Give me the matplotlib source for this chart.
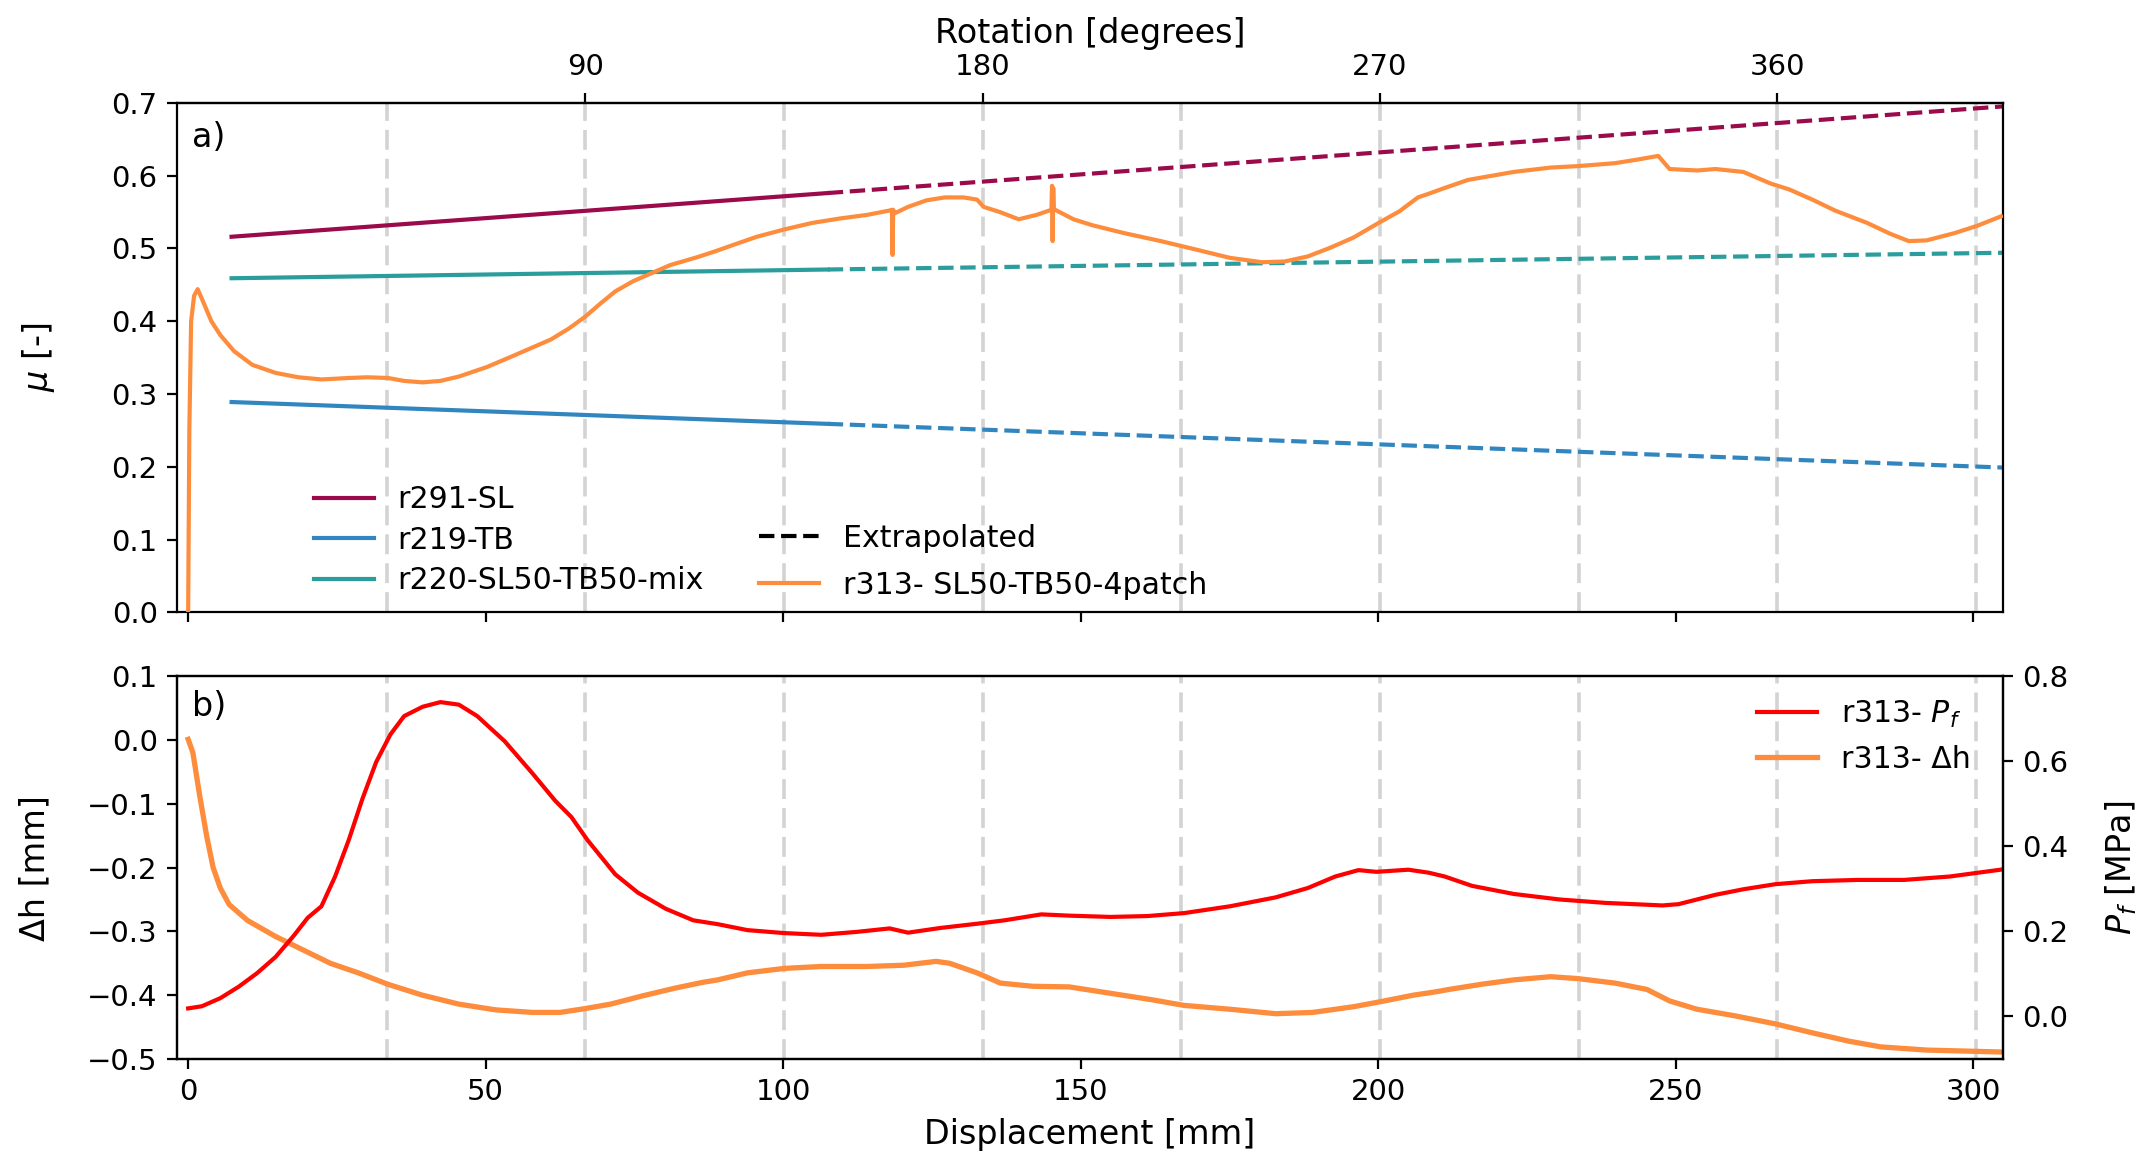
import numpy as np
import matplotlib
matplotlib.use("Agg")
import matplotlib.pyplot as plt
from matplotlib.lines import Line2D

# ---------------- data ----------------
# reference fits (solid = measured range, dashed = extrapolated)
sl_x_fit = [7.3, 107.5]
sl_mu_fit = [0.516, 0.576]
sl_x_ext = [107.5, 305.0]
sl_mu_ext = [0.576, 0.695]

tb_x_fit = [7.3, 107.5]
tb_mu_fit = [0.289, 0.259]
tb_x_ext = [107.5, 305.0]
tb_mu_ext = [0.259, 0.199]

mix_x_fit = [7.3, 107.5]
mix_mu_fit = [0.459, 0.471]
mix_x_ext = [107.5, 305.0]
mix_mu_ext = [0.471, 0.494]

# r313 friction coefficient
r313_x = [0.0, 0.2, 0.5, 1.0, 1.6, 2.3, 3.9, 5.4, 7.7, 10.8, 14.7, 18.5, 22.4, 27.0,
          30.1, 33.6, 36.3, 39.4, 42.4, 45.5, 50.2, 54.8, 61.0, 64.0, 66.7, 69.4,
          71.8, 74.8, 77.9, 81.0, 85.6, 88.6, 91.7, 95.6, 100.2, 104.9, 109.5, 114.1,
          117.9, 118.3, 118.4, 118.5, 118.7, 121.0, 124.1, 127.2, 130.3, 132.6, 133.7,
          136.4, 139.6, 142.6, 145.1, 145.2, 145.3, 145.4, 145.5, 148.8, 151.9, 157.3,
          163.5, 169.6, 175.1, 180.5, 184.3, 188.2, 192.0, 195.9, 200.1, 203.6, 206.7,
          208.5, 211.2, 215.1, 222.8, 229.0, 233.6, 239.8, 243.6, 247.1, 249.0, 253.6,
          256.7, 261.4, 266.0, 269.1, 273.0, 276.8, 282.2, 286.1, 289.2, 292.2, 296.9,
          300.7, 304.7]
r313_mu = [0.000, 0.250, 0.400, 0.435, 0.444, 0.431, 0.400, 0.381, 0.359, 0.340, 0.329,
           0.323, 0.320, 0.322, 0.323, 0.322, 0.318, 0.316, 0.318, 0.324, 0.337, 0.353,
           0.375, 0.390, 0.406, 0.425, 0.441, 0.455, 0.466, 0.477, 0.488, 0.496, 0.505,
           0.516, 0.526, 0.535, 0.541, 0.546, 0.552, 0.553, 0.491, 0.553, 0.548, 0.557,
           0.566, 0.570, 0.570, 0.567, 0.557, 0.550, 0.540, 0.546, 0.553, 0.586, 0.510,
           0.583, 0.554, 0.540, 0.532, 0.521, 0.510, 0.498, 0.487, 0.481, 0.482, 0.489,
           0.501, 0.515, 0.535, 0.551, 0.570, 0.575, 0.583, 0.594, 0.605, 0.611, 0.613,
           0.617, 0.622, 0.627, 0.609, 0.607, 0.609, 0.605, 0.589, 0.581, 0.567, 0.552,
           0.535, 0.520, 0.510, 0.511, 0.521, 0.531, 0.544]

# r313 fault-normal pressure Pf [MPa]
pf_x = [0.0, 2.3, 5.4, 8.5, 11.6, 14.7, 17.7, 20.1, 22.4, 24.7, 27.0, 29.3, 31.6, 34.0,
        36.3, 39.4, 42.4, 45.5, 48.6, 53.2, 57.9, 61.7, 64.4, 67.1, 71.8, 75.6, 80.3,
        84.9, 89.0, 94.0, 100.2, 106.4, 112.5, 117.9, 121.0, 126.4, 132.6, 137.2,
        143.4, 148.1, 155.0, 161.2, 167.4, 175.1, 182.8, 188.2, 192.8, 196.7, 199.7,
        205.1, 208.5, 211.2, 215.8, 222.8, 230.5, 238.2, 247.8, 250.5, 256.7, 261.4,
        266.8, 273.0, 280.7, 288.4, 296.1, 304.6]
pf_val = [0.019, 0.024, 0.043, 0.070, 0.102, 0.140, 0.189, 0.232, 0.259, 0.329, 0.415,
          0.512, 0.598, 0.663, 0.706, 0.728, 0.739, 0.733, 0.706, 0.647, 0.571, 0.507,
          0.469, 0.415, 0.334, 0.291, 0.253, 0.226, 0.217, 0.203, 0.196, 0.192, 0.199,
          0.207, 0.197, 0.208, 0.218, 0.226, 0.240, 0.237, 0.234, 0.236, 0.243, 0.259,
          0.280, 0.302, 0.329, 0.344, 0.340, 0.345, 0.338, 0.329, 0.307, 0.288, 0.275,
          0.267, 0.261, 0.264, 0.286, 0.299, 0.311, 0.318, 0.321, 0.321, 0.329, 0.345]

# r313 height change dh [mm]
dh_x = [0.0, 0.8, 1.9, 3.1, 4.2, 5.4, 6.9, 10.0, 14.7, 19.3, 23.9, 28.6, 33.6, 39.4,
        45.5, 51.7, 57.9, 62.5, 66.7, 71.0, 76.4, 81.8, 86.4, 89.0, 94.0, 100.2, 106.4,
        114.1, 120.3, 125.7, 128.0, 132.6, 136.5, 141.9, 148.1, 155.7, 161.9, 167.4,
        175.1, 182.8, 189.0, 195.9, 200.5, 205.9, 209.5, 211.9, 217.3, 222.8, 229.0,
        233.6, 239.8, 245.2, 249.0, 253.6, 259.8, 266.8, 273.0, 279.1, 284.5, 292.2,
        304.6]
dh_val = [0.001, -0.020, -0.085, -0.150, -0.200, -0.232, -0.258, -0.283, -0.308,
          -0.329, -0.350, -0.365, -0.383, -0.400, -0.414, -0.423, -0.427, -0.427,
          -0.421, -0.414, -0.401, -0.389, -0.380, -0.376, -0.365, -0.358, -0.355,
          -0.355, -0.353, -0.347, -0.350, -0.365, -0.381, -0.386, -0.387, -0.398,
          -0.407, -0.416, -0.422, -0.429, -0.427, -0.418, -0.410, -0.400, -0.395,
          -0.391, -0.383, -0.376, -0.371, -0.374, -0.381, -0.391, -0.409, -0.422,
          -0.432, -0.445, -0.459, -0.472, -0.481, -0.486, -0.489]

rot_ticks = [90, 180, 270, 360]
circumference_mm = 267.1  # displacement per full 360 degree rotation

# ---------------- style ----------------
c_sl = '#9b0a4b'
c_tb = '#3186c0'
c_mix = '#2a9d9c'
c_r313 = '#fd8d3c'
c_pf = '#ff0000'
lw = 1.5
grid_kw = dict(color='#d3d3d3', lw=1.3, dashes=(5.5, 2.5), zorder=0)

plt.rcParams['font.family'] = 'DejaVu Sans'
plt.rcParams['xtick.labelsize'] = 10.5
plt.rcParams['ytick.labelsize'] = 10.5

fig = plt.figure(figsize=(10.71, 5.78), dpi=200)
ax1 = fig.add_axes([0.0827, 0.4702, 0.8523, 0.4409])
ax2 = fig.add_axes([0.0827, 0.0839, 0.8523, 0.3312])

xlim = (-1.85, 305.0)
grid_pos = [k * circumference_mm / 8 for k in range(1, 10)]

# ---------------- panel a ----------------
for g in grid_pos:
    ax1.axvline(g, **grid_kw)
ax1.plot(sl_x_fit, sl_mu_fit, color=c_sl, lw=lw, label='r291-SL')
ax1.plot(tb_x_fit, tb_mu_fit, color=c_tb, lw=lw, label='r219-TB')
ax1.plot(mix_x_fit, mix_mu_fit, color=c_mix, lw=lw, label='r220-SL50-TB50-mix')
ax1.plot(sl_x_ext, sl_mu_ext, color=c_sl, lw=lw, ls='--')
ax1.plot(tb_x_ext, tb_mu_ext, color=c_tb, lw=lw, ls='--')
ax1.plot(mix_x_ext, mix_mu_ext, color=c_mix, lw=lw, ls='--')
ax1.plot(r313_x, r313_mu, color=c_r313, lw=lw, zorder=3)

ax1.set_xlim(*xlim)
ax1.set_ylim(0, 0.7)
ax1.set_xticks([0, 50, 100, 150, 200, 250, 300])
ax1.set_xticklabels([])
ax1.set_ylabel(r'$\mu$ [-]', fontsize=12)
ax1.yaxis.set_label_coords(-0.066, 0.5)
ax1.text(0.008, 0.965, 'a)', transform=ax1.transAxes, fontsize=12, va='top', ha='left')

leg1 = ax1.legend(loc='lower left', bbox_to_anchor=(0.060, -0.019), frameon=False,
                  fontsize=10.8, labelspacing=0.38)
ax1.add_artist(leg1)
h_ext = Line2D([], [], color='black', lw=lw, ls='--')
h_r313 = Line2D([], [], color=c_r313, lw=lw)
leg2 = ax1.legend([h_ext, h_r313], ['Extrapolated', 'r313- SL50-TB50-4patch'],
                  loc='lower left', bbox_to_anchor=(0.304, -0.028), frameon=False,
                  fontsize=10.8, labelspacing=0.6)

sec = ax1.secondary_xaxis('top', functions=(lambda x: x * 360.0 / circumference_mm,
                                            lambda d: d * circumference_mm / 360.0))
sec.set_xticks(rot_ticks)
sec.tick_params(pad=4.5)
sec.set_xlabel('Rotation [degrees]', fontsize=12, labelpad=3.5)

# ---------------- panel b ----------------
for g in grid_pos:
    ax2.axvline(g, **grid_kw)
l_dh, = ax2.plot(dh_x, dh_val, color=c_r313, lw=lw + 0.4, label='r313- Δh')
ax2.set_xlim(*xlim)
ax2.set_ylim(-0.5, 0.1)
ax2.set_xticks([0, 50, 100, 150, 200, 250, 300])
ax2.set_xlabel('Displacement [mm]', fontsize=12)
ax2.set_ylabel('Δh [mm]', fontsize=12)
ax2.yaxis.set_label_coords(-0.069, 0.5)
ax2.text(0.008, 0.965, 'b)', transform=ax2.transAxes, fontsize=12, va='top', ha='left')

ax3 = ax2.twinx()
l_pf, = ax3.plot(pf_x, pf_val, color=c_pf, lw=lw, label=r'r313- $P_f$')
ax3.set_ylim(-0.1, 0.8)
ax3.set_yticks([0.0, 0.2, 0.4, 0.6, 0.8])
ax3.set_ylabel(r'$P_f$ [MPa]', fontsize=12)
ax3.yaxis.set_label_coords(1.055, 0.5)
ax3.legend([l_pf, l_dh], [r'r313- $P_f$', 'r313- Δh'], loc='upper right',
           bbox_to_anchor=(0.997, 1.012), frameon=False, fontsize=10.8)

fig.savefig('out.png', dpi=200)
